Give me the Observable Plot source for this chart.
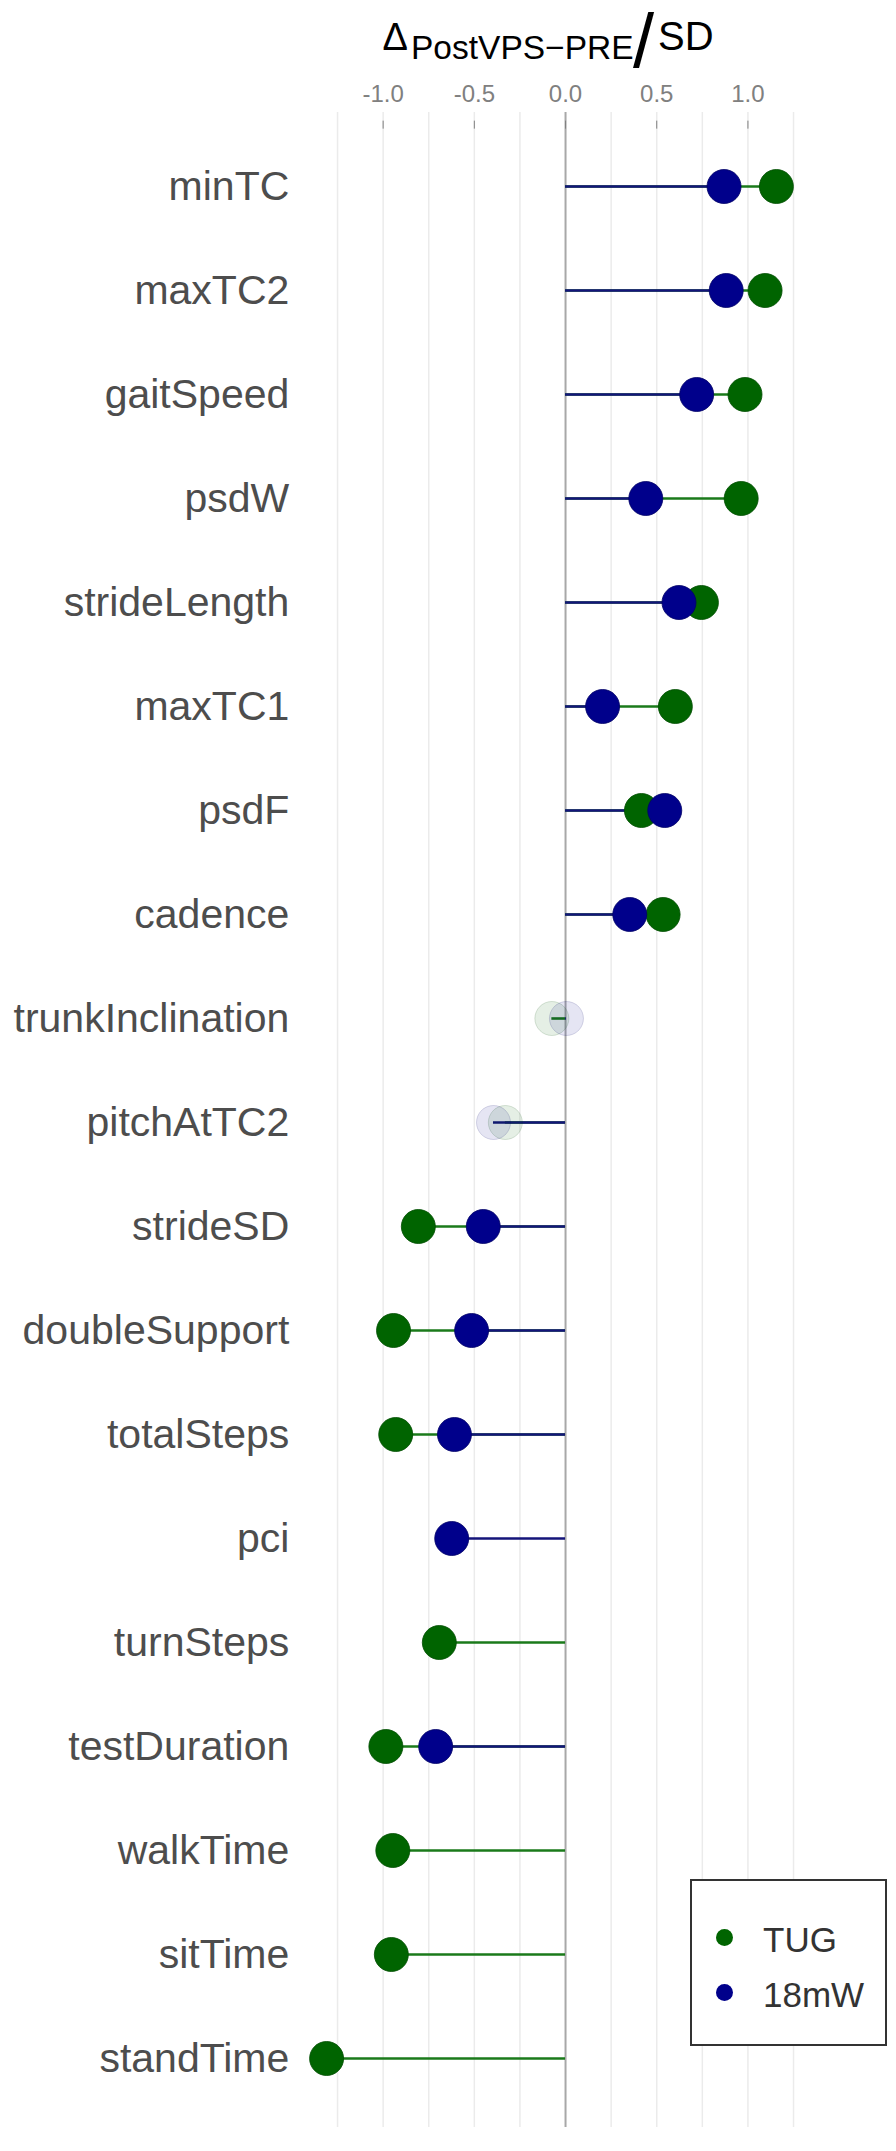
<!DOCTYPE html>
<html>
<head>
<meta charset="utf-8">
<script src="https://cdn.jsdelivr.net/npm/d3@7"></script>
<script src="https://cdn.jsdelivr.net/npm/@observablehq/plot@0.6"></script>
<style>
  html, body { margin: 0; padding: 0; background: #fff; }
  #wrap { position: relative; width: 896px; font-family: "Liberation Sans", Arial, sans-serif; }
  #title { position: relative; height: 80px; color: #000; }
  #title span { position: absolute; line-height: 1; white-space: nowrap; }
  #legend { position: absolute; left: 690px; top: 1879px; width: 197px; height: 167px; box-sizing: border-box;
            border: 2px solid #333; background: #fff; }
  #legend .item { position: absolute; left: 0; line-height: 1; font-size: 35px; color: #333; white-space: nowrap; }
  #legend .dot { position: absolute; width: 17px; height: 17px; border-radius: 50%; }
</style>
</head>
<body>
<div id="wrap">
  <div id="title">
    <span style="left:382.5px; top:18.3px; font-size:38px;">Δ</span>
    <span style="left:411px; top:30.9px; font-size:33.5px;">PostVPS−PRE</span>
    <span style="left:633px; top:2.5px; font-size:76px;">/</span>
    <span style="left:658px; top:16.1px; font-size:40px;">SD</span>
  </div>
  <div id="chart"></div>
  <div id="legend"></div>
</div>
<script>
// ---- data ----
const features = ["minTC", "maxTC2", "gaitSpeed", "psdW", "strideLength", "maxTC1", "psdF", "cadence",
  "trunkInclination", "pitchAtTC2", "strideSD", "doubleSupport", "totalSteps", "pci", "turnSteps",
  "testDuration", "walkTime", "sitTime", "standTime"];
const tugValues = [1.156, 1.094, 0.984, 0.963, 0.745, 0.602, 0.416, 0.535,
  -0.075, -0.33, -0.807, -0.943, -0.931, null, -0.692,
  -0.985, -0.947, -0.955, -1.31];
const mw18Values = [0.869, 0.881, 0.719, 0.44, 0.622, 0.203, 0.544, 0.352,
  0.005, -0.395, -0.451, -0.515, -0.609, -0.624, null,
  -0.712, null, null, null];
const faintFeatures = ["trunkInclination", "pitchAtTC2"];
const seriesNames = ["TUG", "18mW"];
const seriesColors = ["#006400", "#00008b"];
const gridTicks = [-1.25, -1, -0.75, -0.5, -0.25, 0.25, 0.5, 0.75, 1, 1.25];
const axisTicks = [-1, -0.5, 0, 0.5, 1];

// ---- build table ----
function series(name, values) {
  const out = [];
  features.forEach((f, i) => {
    if (values[i] != null) out.push({feature: f, group: name, value: values[i], faint: faintFeatures.includes(f)});
  });
  return out;
}
const tug = series(seriesNames[0], tugValues);
const mw = series(seriesNames[1], mw18Values);

const gridExt = {insetTop: -15.65, insetBottom: -10.65};

const chart = Plot.plot({
  width: 896,
  height: 2071,
  marginTop: 47.65,
  marginBottom: 34.65,
  marginLeft: 318.8,
  marginRight: 90.2,
  x: {domain: [-1.35, 1.32]},
  y: {type: "point", domain: features, padding: 0.5},
  color: {domain: seriesNames, range: seriesColors},
  style: {fontFamily: "'Liberation Sans', Arial, sans-serif", background: "transparent"},
  marks: [
    Plot.ruleX(gridTicks, {stroke: "#ebebeb", strokeWidth: 1.5, ...gridExt}),
    Plot.ruleX([0], {stroke: "#a8a8a8", strokeWidth: 2, ...gridExt}),
    Plot.axisX(axisTicks, {anchor: "top", tickSize: 8, tickPadding: 18.65, tickFormat: d => d.toFixed(1),
      fontSize: 24, color: "#808080", label: null}),
    Plot.axisY({anchor: "left", tickSize: 0, tickPadding: 30, fontSize: 41, color: "#4d4d4d", label: null}),
    Plot.ruleY(tug, {y: "feature", x1: 0, x2: "value", stroke: "#1a7a1a", strokeWidth: 2.6}),
    Plot.ruleY(mw, {y: "feature", x1: 0, x2: "value", stroke: "#14147a", strokeWidth: 2.6}),
    Plot.dot(tug, {x: "value", y: "feature", r: 17, fill: "group", stroke: "#004d00", strokeWidth: 1,
      fillOpacity: d => d.faint ? 0.1 : 1, strokeOpacity: d => d.faint ? 0.15 : 0.8}),
    Plot.dot(mw, {x: "value", y: "feature", r: 17, fill: "group", stroke: "#000066", strokeWidth: 1,
      fillOpacity: d => d.faint ? 0.1 : 1, strokeOpacity: d => d.faint ? 0.15 : 0.8})
  ]
});
document.getElementById("chart").appendChild(chart);

// ---- legend ----
const legend = document.getElementById("legend");
seriesNames.forEach((name, i) => {
  const dot = document.createElement("div");
  dot.className = "dot";
  dot.style.background = seriesColors[i];
  dot.style.left = (724 - 690 - 8.5 - 2) + "px";
  dot.style.top = ((i === 0 ? 1937 : 1992) - 1879 - 8.5 - 2) + "px";
  legend.appendChild(dot);
  const lab = document.createElement("div");
  lab.className = "item";
  lab.textContent = name;
  lab.style.left = (763 - 690 - 2) + "px";
  lab.style.top = ((i === 0 ? 1952 : 2007) - 1879 - 2 - 0.8465 * 35) + "px";
  legend.appendChild(lab);
});
</script>
</body>
</html>
